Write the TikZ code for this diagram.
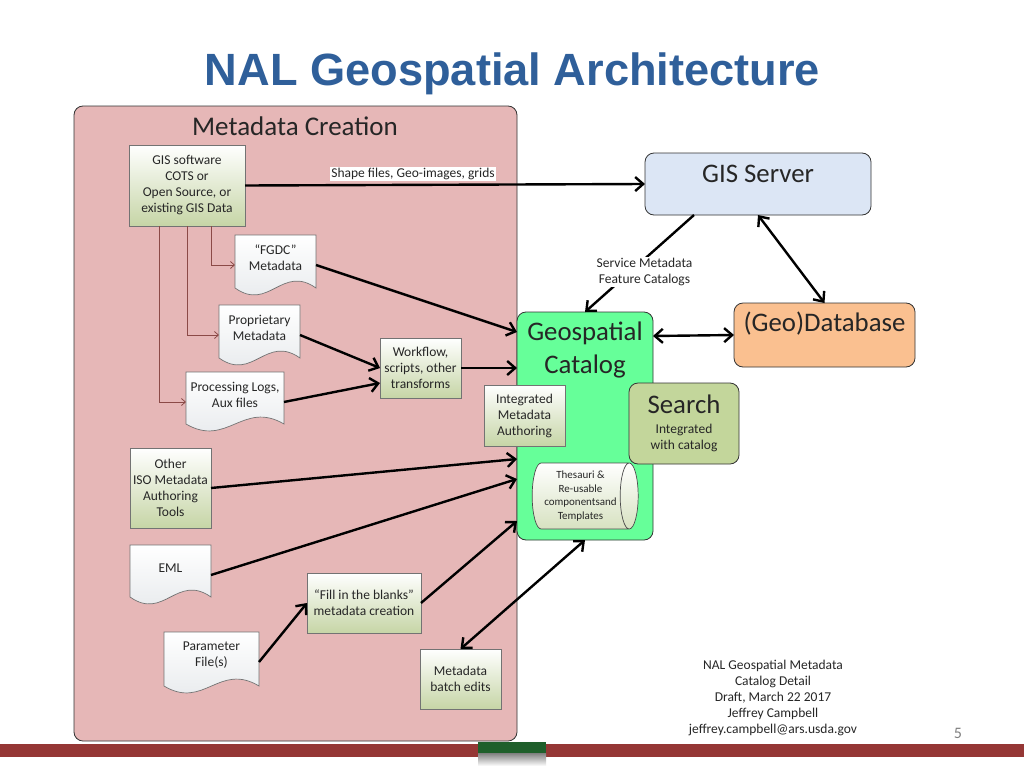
\documentclass[tikz,border=0pt]{standalone}
\usepackage{fontspec}
\setmainfont{Carlito}
\newfontfamily\titlefont{Liberation Sans}
\usetikzlibrary{shapes.geometric,arrows.meta}
\definecolor{panelpink}{HTML}{E6B7B7}
\definecolor{catgreen}{HTML}{66FF99}
\definecolor{boxgreen}{HTML}{C6D5A6}
\definecolor{docgrey}{HTML}{E4E7EA}
\definecolor{searchgreen}{HTML}{C3D69B}
\definecolor{serverblue}{HTML}{DCE6F5}
\definecolor{dborange}{HTML}{FAC090}
\definecolor{barred}{HTML}{953735}
\definecolor{tabgreen}{HTML}{1F5F2B}
\definecolor{thinbrown}{HTML}{8B4A47}
\definecolor{titleblue}{HTML}{2F5F9A}
\definecolor{inkgrey}{HTML}{262626}
\newcommand{\smallfont}{\fontsize{13.5}{16}\selectfont}
\newcommand{\bigfont}{\fontsize{26.8}{33}\selectfont}
\newcommand{\wavedoc}[6]{
  \shade[top color=white,bottom color=docgrey,draw=black!55,line width=.7pt]
    (#2,#3) -- (#4,#3) -- (#4,#5)
    .. controls (#2+.58*#4-.58*#2,#5-24) and (#2+.42*#4-.42*#2,#5+24) .. (#2,#5) -- cycle;
  \node[doctext,minimum width=#4pt-#2pt,minimum height=46pt] (#1) at ({(#2+#4)/2},#3+23) {#6};
  \coordinate (#1-in) at ([yshift=-7pt]#1.west);
  \coordinate (#1-out) at ([yshift=-7pt]#1.east);
}
\begin{document}
\begin{tikzpicture}[x=1pt,y=-1pt,>={Straight Barb[length=8pt,width=14pt]}]
\tikzstyle{doctext}=[inner sep=0pt,outer sep=0pt,align=center,font=\smallfont,text=inkgrey]
\tikzstyle{srcbox}=[rectangle,draw=black!55,line width=.7pt,top color=white,bottom color=boxgreen,inner sep=0pt,outer sep=0pt,align=center,font=\smallfont,text=inkgrey]
\tikzstyle{roundbox}=[rectangle,draw=black!80,line width=.8pt,rounded corners=9pt,inner sep=0pt,outer sep=0pt,align=center]
\tikzstyle{thick line}=[draw=black,line width=2.4pt]
\tikzstyle{thin line}=[draw=thinbrown,line width=.8pt,-{Straight Barb[length=4pt,width=7pt]}]
\useasboundingbox (0,0) rectangle (1024,768);
\fill[white] (0,0) rectangle (1024,768);
\node[font=\titlefont\bfseries\fontsize{45.2}{50}\selectfont,text=titleblue] (title) at (512.5,74) {NAL Geospatial Architecture};
\node[roundbox,fill=panelpink,minimum width=443pt,minimum height=635pt] (panel) at (295.5,423.5) {};
\node[font=\fontsize{27}{30}\selectfont,text=black!85] (paneltitle) at (295,126) {Metadata Creation};
\node[roundbox,fill=catgreen,minimum width=136pt,minimum height=228pt] (catalog) at (585,426) {};
\node[align=center,font=\bigfont,text=black!85] (catalogtitle) at (585,350) {Geospatial\\Catalog};
\node[roundbox,fill=serverblue,minimum width=226pt,minimum height=62pt,font=\bigfont,text=black!85,text depth=21pt] (gisserver) at (758,184) {GIS Server};
\node[roundbox,fill=dborange,minimum width=181pt,minimum height=64pt,font=\bigfont,text=black!85,text depth=26pt] (database) at (824.5,335) {(Geo)Database};
\node[roundbox,fill=searchgreen,minimum width=110pt,minimum height=81pt,font=\smallfont,text=inkgrey] (search) at (684,423.5) {{\bigfont\color{black!85}Search}\\[4pt]Integrated\\with catalog};
\node[srcbox,minimum width=116pt,minimum height=81pt] (gis) at (187,185.5) {GIS software\\COTS or\\Open Source, or\\existing GIS Data};
\node[srcbox,minimum width=81pt,minimum height=60pt] (workflow) at (420.5,368) {Workflow,\\scripts, other\\transforms};
\node[srcbox,minimum width=81pt,minimum height=61pt] (authoring) at (524.5,415.5) {Integrated\\Metadata\\Authoring};
\node[srcbox,minimum width=81pt,minimum height=80pt] (iso) at (170.5,488) {Other\\ISO Metadata\\Authoring\\Tools};
\node[srcbox,minimum width=114pt,minimum height=60pt] (fill) at (364,603) {``Fill in the blanks''\\metadata creation};
\node[srcbox,minimum width=81pt,minimum height=60pt] (batch) at (460.5,679) {Metadata\\batch edits};
\node[cylinder,shape border rotate=0,shape aspect=.36,draw=black!70,line width=.7pt,top color=white,bottom color=boxgreen!70,minimum width=66pt,minimum height=106pt,inner sep=0pt,outer sep=0pt,align=center,font=\fontsize{11}{13.5}\selectfont,text=inkgrey] (thesauri) at (580.5,496) {Thesauri \&\\Re-usable\\componentsand\\Templates};
\wavedoc{fgdc}{235}{235}{316}{288}{``FGDC''\\Metadata}
\wavedoc{proprietary}{219}{305}{300}{358}{Proprietary\\Metadata}
\wavedoc{logs}{186}{372}{284}{424}{Processing Logs,\\Aux files}
\wavedoc{eml}{130}{545}{211}{597}{EML}
\wavedoc{params}{164}{632}{259}{686}{Parameter\\File(s)}
\draw[thin line] ([xshift=24pt]gis.south) |- (fgdc-in);
\draw[thin line] (gis.south) |- (proprietary-in);
\draw[thin line] ([xshift=-28pt]gis.south) |- (logs-in);
\draw[thick line,->] (gis.east) -- (gisserver.west);
\draw[thick line,->] (fgdc-out) -- ([yshift=-20pt]catalog.north west);
\draw[thick line,->] (proprietary-out) -- (workflow.west);
\draw[thick line,->] (logs-out) -- ([yshift=-15pt]workflow.west);
\draw[thick line,->] (workflow.east) -- (catalog.west |- workflow.east);
\draw[thick line,->] (iso.east) -- ([yshift=-147pt]catalog.north west);
\draw[thick line,->] (eml-out) -- ([yshift=-167pt]catalog.north west);
\draw[thick line,->] (fill.east) -- ([yshift=-209pt]catalog.north west);
\draw[thick line,->] (params-out) -- (fill.west);
\draw[thick line,<->] (batch.north) -- (catalog.south);
\draw[thick line,->] ([xshift=-64pt]gisserver.south) -- (catalog.north);
\draw[thick line,<->] (gisserver.south) -- (database.north);
\draw[thick line,<->] ([yshift=-24pt]catalog.north east) -- (database.west);
\node[fill=white,inner sep=1pt,font=\smallfont,text=inkgrey] (shapelabel) at (413,174) {Shape files, Geo-images, grids};
\node[fill=white,inner sep=1pt,align=center,font=\smallfont,text=inkgrey] (servicelabel) at (644.5,272) {Service Metadata\\Feature Catalogs};
\node[align=center,font=\smallfont,text=inkgrey] (credits) at (773,697.5) {NAL Geospatial Metadata\\Catalog Detail\\Draft, March 22 2017\\Jeffrey Campbell\\jeffrey.campbell@ars.usda.gov};
\node[font=\fontsize{16}{18}\selectfont,text=black!50] (pagenum) at (958,733) {5};
\fill[barred] (0,744) rectangle (1024,757);
\shade[top color=black!50,bottom color=white] (478,753) rectangle (546,766);
\fill[tabgreen] (478,742) rectangle (546,753);
\end{tikzpicture}
\end{document}
